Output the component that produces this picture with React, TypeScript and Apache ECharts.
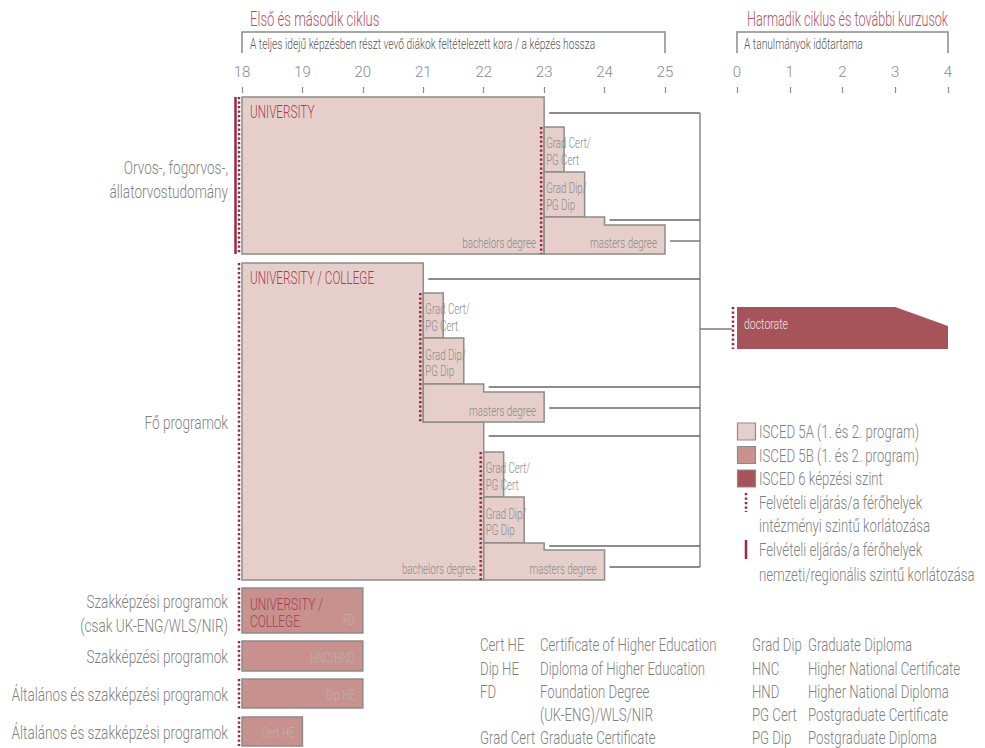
import React, { useEffect, useRef } from 'react';
import * as echarts from 'echarts';

const FONT = 'Roboto, "DejaVu Sans Condensed", sans-serif';

// Axis ticks
const ageTicks = [18, 19, 20, 21, 22, 23, 24, 25];
const durationTicks = [0, 1, 2, 3, 4];

// ISCED 5A programmes (ages): start, end of upper part, end of lower part
const isced5aLabels = [
  'bachelors degree', 'Grad Cert/\nPG Cert', 'Grad Dip/\nPG Dip', 'masters degree',
  'bachelors degree', 'Grad Cert/\nPG Cert', 'Grad Dip/\nPG Dip', 'masters degree',
  'Grad Cert/\nPG Cert', 'Grad Dip/\nPG Dip', 'masters degree',
];
const isced5aInstitution = ['UNIVERSITY', '', '', '', 'UNIVERSITY / COLLEGE', '', '', '', '', '', ''];
const isced5aStart = [18, 23, 23, 23, 18, 21, 21, 21, 22, 22, 22];
const isced5aEndUpper = [23, 23.33, 23.67, 24, 21, 21.33, 21.67, 22, 22.33, 22.67, 23];
const isced5aEndLower = [23, 23.33, 23.67, 25, 22, 21.33, 21.67, 23, 22.33, 22.67, 24];
// vertical lanes (layout)
const isced5aTop = [97, 127, 172, 217, 263, 293, 338, 384, 452, 497, 543];
const isced5aStep = [254, 172, 217, 225, 422, 338, 384, 392, 497, 543, 550];
const isced5aBottom = [254, 172, 217, 254, 580, 338, 384, 422, 497, 543, 580];

// ISCED 5B programmes
const isced5bLabels = ['FD', 'HNC/HND', 'Dip HE', 'Cert HE'];
const isced5bInstitution = ['UNIVERSITY /\nCOLLEGE', '', '', ''];
const isced5bStart = [18, 18, 18, 18];
const isced5bEnd = [20, 20, 20, 19];
const isced5bTop = [588, 641, 679, 717];
const isced5bBottom = [633, 671, 708, 746];

// ISCED 6 (duration in years)
const isced6Labels = ['doctorate'];
const isced6Start = [0];
const isced6EndTop = [3];
const isced6End = [4];
const isced6Top = [307];
const isced6Bevel = [326];
const isced6Bottom = [349];

// Selection at institutional level (dotted) — age where it applies
const instSelAge = [18, 18, 18, 18, 18, 18, 23, 21, 22];
const instSelTop = [97, 263, 588, 641, 679, 717, 127, 293, 452];
const instSelBottom = [254, 580, 633, 671, 708, 746, 254, 422, 580];

// Selection at national level (solid)
const natSelAge = [18];
const natSelTop = [97];
const natSelBottom = [254];

// Connectors to third cycle: age where programme ends
const connectorAge = [23, 24, 25, 21, 22, 23, 22, 23, 24];
const connectorY = [113, 220, 241, 279, 387, 408, 436, 546, 567];

// Row labels
const rowLabels = [
  'Orvos-, fogorvos-,\nállatorvostudomány',
  'Fő programok',
  'Szakképzési programok\n(csak UK-ENG/WLS/NIR)',
  'Szakképzési programok',
  'Általános és szakképzési programok',
  'Általános és szakképzési programok',
];
const rowLabelY = [180, 423, 614, 657, 695, 733];

// Glossary
const glossAbbrLeft = ['Cert HE', 'Dip HE', 'FD', '', 'Grad Cert'];
const glossTextLeft = ['Certificate of Higher Education', 'Diploma of Higher Education', 'Foundation Degree', '(UK-ENG)/WLS/NIR', 'Graduate Certificate'];
const glossAbbrRight = ['Grad Dip', 'HNC', 'HND', 'PG Cert', 'PG Dip'];
const glossTextRight = ['Graduate Diploma', 'Higher National Certificate', 'Higher National Diploma', 'Postgraduate Certificate', 'Postgraduate Diploma'];

const legendLabels = [
  'ISCED 5A (1. és 2. program)',
  'ISCED 5B (1. és 2. program)',
  'ISCED 6 képzési szint',
  'Felvételi eljárás/a férőhelyek\nintézményi szintű korlátozása',
  'Felvételi eljárás/a férőhelyek\nnemzeti/regionális szintű korlátozása',
];

const C5A = '#e6cfcb';
const C5B = '#c8918d';
const C6 = '#a6535a';
const BORDER = '#8c8c8c';
const DOT = '#9b2741';
const RED_TITLE = '#b5515f';
const RED_INST = '#a63d4f';
const GRAY = '#808080';
const CONN = '#666666';

function txt(text: string, x: number, y: number, o: any = {}) {
  return {
    type: 'text',
    x,
    y,
    scaleX: o.scaleX || 0.72,
    silent: true,
    style: {
      text,
      fill: o.fill || GRAY,
      fontSize: o.fontSize || 14,
      fontFamily: FONT,
      fontWeight: 300,
      align: o.align || 'left',
      verticalAlign: o.verticalAlign || 'middle',
      lineHeight: o.lineHeight || 24,
    },
  };
}

function buildOption() {
  const data5a = isced5aStart.map((s, i) => [s, isced5aEndUpper[i], isced5aEndLower[i], isced5aTop[i], isced5aStep[i], isced5aBottom[i]]);
  const data5b = isced5bStart.map((s, i) => [s, isced5bEnd[i], isced5bTop[i], isced5bBottom[i]]);
  const data6 = isced6Start.map((s, i) => [s, isced6EndTop[i], isced6End[i], isced6Top[i], isced6Bevel[i], isced6Bottom[i]]);
  const dataInst = instSelAge.map((a, i) => [a, instSelTop[i], instSelBottom[i]]);
  const dataNat = natSelAge.map((a, i) => [a, natSelTop[i], natSelBottom[i]]);
  const dataConn = connectorAge.map((a, i) => [a, connectorY[i]]);

  const render5a = (params: any, api: any) => {
    const i = params.dataIndex;
    const p = (x: number, y: number) => api.coord([x, y]);
    const s = api.value(0), eu = api.value(1), el = api.value(2), t = api.value(3), st = api.value(4), b = api.value(5);
    const pts = [p(s, t), p(eu, t), p(eu, st), p(el, st), p(el, b), p(s, b)];
    const children: any[] = [
      { type: 'polygon', shape: { points: pts }, style: { fill: C5A, stroke: BORDER, lineWidth: 1.5 } },
    ];
    const label = isced5aLabels[i];
    if (label.indexOf('\n') >= 0) {
      children.push(txt(label, pts[0][0] + 2, (pts[0][1] + pts[5][1]) / 2 + 2.5, { fontSize: 14.5, scaleX: 0.67, lineHeight: 16.5, fill: '#8a8a8a' }));
    } else {
      children.push(txt(label, pts[4][0] - 8, pts[4][1] - 11, { fontSize: 14, scaleX: 0.7, align: 'right', fill: '#8a8a8a' }));
    }
    if (isced5aInstitution[i]) {
      children.push(txt(isced5aInstitution[i], pts[0][0] + 8, pts[0][1] + 15, { fontSize: 17.5, scaleX: 0.67, fill: RED_INST }));
    }
    return { type: 'group', children };
  };

  const render5b = (params: any, api: any) => {
    const i = params.dataIndex;
    const tl = api.coord([api.value(0), api.value(2)]);
    const br = api.coord([api.value(1), api.value(3)]);
    const children: any[] = [
      { type: 'rect', shape: { x: tl[0], y: tl[1], width: br[0] - tl[0], height: br[1] - tl[1] }, style: { fill: C5B, stroke: BORDER, lineWidth: 1.5 } },
      txt(isced5bLabels[i], br[0] - 8, br[1] - 12.5, { fontSize: 14, scaleX: 0.7, align: 'right', fill: '#b9b4b4' }),
    ];
    if (isced5bInstitution[i]) {
      children.push(txt(isced5bInstitution[i], tl[0] + 8, tl[1] + 24.5, { fontSize: 17, scaleX: 0.7, lineHeight: 17, fill: RED_INST }));
    }
    return { type: 'group', children };
  };

  const render6 = (params: any, api: any) => {
    const i = params.dataIndex;
    const p = (x: number, y: number) => api.coord([x, y]);
    const s = api.value(0), et = api.value(1), e = api.value(2), t = api.value(3), bv = api.value(4), b = api.value(5);
    const pts = [p(s, t), p(et, t), p(e, bv), p(e, b), p(s, b)];
    const midY = (pts[0][1] + pts[4][1]) / 2;
    return {
      type: 'group',
      children: [
        { type: 'polygon', shape: { points: pts }, style: { fill: C6, stroke: 'none' } },
        txt(isced6Labels[i], pts[0][0] + 7, midY - 4, { fontSize: 15, scaleX: 0.7, fill: '#f3e4e4' }),
        { type: 'line', shape: { x1: pts[0][0] - 4, y1: pts[0][1], x2: pts[0][0] - 4, y2: pts[4][1] }, style: { stroke: DOT, lineWidth: 2.5, lineDash: [2.2, 2.3] } },
        { type: 'line', shape: { x1: pts[0][0] - 37, y1: midY + 1, x2: pts[0][0] - 5, y2: midY + 1 }, style: { stroke: CONN, lineWidth: 1.3 } },
      ],
    };
  };

  const renderInst = (params: any, api: any) => {
    const a = api.coord([api.value(0), api.value(1)]);
    const b = api.coord([api.value(0), api.value(2)]);
    return { type: 'line', shape: { x1: a[0] - 3, y1: a[1], x2: b[0] - 3, y2: b[1] }, style: { stroke: DOT, lineWidth: 2.5, lineDash: [2.2, 2.3] } };
  };

  const renderNat = (params: any, api: any) => {
    const a = api.coord([api.value(0), api.value(1)]);
    const b = api.coord([api.value(0), api.value(2)]);
    return { type: 'line', shape: { x1: a[0] - 6.5, y1: a[1], x2: b[0] - 6.5, y2: b[1] }, style: { stroke: DOT, lineWidth: 2.5 } };
  };

  const renderConn = (params: any, api: any) => {
    const a = api.coord([api.value(0), api.value(1)]);
    const trunkX = api.coord([ageTicks[ageTicks.length - 1], 0])[0] + 35;
    const children: any[] = [
      { type: 'line', shape: { x1: a[0] + 5, y1: a[1], x2: trunkX, y2: a[1] }, style: { stroke: CONN, lineWidth: 1.3 } },
    ];
    if (params.dataIndex === 0) {
      const yMin = api.coord([0, Math.min(...connectorY)])[1];
      const yMax = api.coord([0, Math.max(...connectorY)])[1];
      children.push({ type: 'line', shape: { x1: trunkX, y1: yMin, x2: trunkX, y2: yMax }, style: { stroke: '#8a8a8a', lineWidth: 1.5 } });
    }
    return { type: 'group', children };
  };

  const axisCommon = {
    type: 'value',
    position: 'top',
    interval: 1,
    axisLine: { show: false },
    axisTick: { show: true, length: 6, lineStyle: { color: '#8a8a8a', width: 1.2 } },
    axisLabel: { margin: 14, color: '#8a8a8a', fontSize: 15, fontFamily: FONT, fontWeight: 300 },
    splitLine: { show: false },
  };

  const graphic: any[] = [];
  // Titles
  graphic.push(txt('Első és második ciklus', 250, 19, { fontSize: 20, scaleX: 0.655, fill: RED_TITLE }));
  graphic.push(txt('Harmadik ciklus és további kurzusok', 948, 19, { fontSize: 20, scaleX: 0.63, fill: RED_TITLE, align: 'right' }));
  // Brackets
  graphic.push({ type: 'polyline', shape: { points: [[242, 53], [242, 32], [665, 32], [665, 53]] }, style: { stroke: '#8a8a8a', lineWidth: 1.5, fill: 'none' } });
  graphic.push({ type: 'polyline', shape: { points: [[737, 53], [737, 32], [948, 32], [948, 53]] }, style: { stroke: '#8a8a8a', lineWidth: 1.5, fill: 'none' } });
  graphic.push(txt('A teljes idejű képzésben részt vevő diákok feltételezett kora / a képzés hossza', 250, 44, { fontSize: 14, scaleX: 0.73, fill: '#555' }));
  graphic.push(txt('A tanulmányok időtartama', 744, 44, { fontSize: 14, scaleX: 0.73, fill: '#555' }));
  // Row labels
  rowLabels.forEach((l, i) => graphic.push(txt(l, 228, rowLabelY[i], { fontSize: 19, scaleX: 0.716, align: 'right', fill: GRAY })));
  // Legend
  const legY = [432, 455.5, 479];
  const legFill = [C5A, C5B, C6];
  legY.forEach((y, i) => {
    graphic.push({ type: 'rect', shape: { x: 737.5, y: y - 9, width: 18, height: 17 }, style: { fill: legFill[i], stroke: BORDER, lineWidth: 1.2 } });
    graphic.push(txt(legendLabels[i], 759, y, { fontSize: 19, scaleX: 0.695, fill: GRAY }));
  });
  graphic.push({ type: 'line', shape: { x1: 746, y1: 493, x2: 746, y2: 512 }, style: { stroke: DOT, lineWidth: 2.5, lineDash: [2.2, 2.3] } });
  graphic.push(txt(legendLabels[3], 759, 514, { fontSize: 19, scaleX: 0.695, lineHeight: 23.5, fill: GRAY }));
  graphic.push({ type: 'line', shape: { x1: 746, y1: 540, x2: 746, y2: 559 }, style: { stroke: DOT, lineWidth: 2.5 } });
  graphic.push(txt(legendLabels[4], 759, 562, { fontSize: 19, scaleX: 0.695, lineHeight: 25, fill: GRAY }));
  // Glossary
  const glossY = [645, 668.5, 692, 715, 738];
  glossY.forEach((y, i) => {
    if (glossAbbrLeft[i]) graphic.push(txt(glossAbbrLeft[i], 480, y, { fontSize: 18.5, scaleX: 0.713, fill: GRAY }));
    graphic.push(txt(glossTextLeft[i], 540, y, { fontSize: 18.5, scaleX: 0.713, fill: GRAY }));
    graphic.push(txt(glossAbbrRight[i], 752, y, { fontSize: 18.5, scaleX: 0.713, fill: GRAY }));
    graphic.push(txt(glossTextRight[i], 808, y, { fontSize: 18.5, scaleX: 0.713, fill: GRAY }));
  });

  return {
    animation: false,
    grid: [
      { left: 242, width: 423, top: 93, bottom: 0 },
      { left: 737, width: 211, top: 93, bottom: 0 },
    ],
    xAxis: [
      { ...axisCommon, gridIndex: 0, min: ageTicks[0], max: ageTicks[ageTicks.length - 1] },
      { ...axisCommon, gridIndex: 1, min: durationTicks[0], max: durationTicks[durationTicks.length - 1] },
    ],
    yAxis: [
      { type: 'value', gridIndex: 0, min: 93, max: 748, inverse: true, show: false },
      { type: 'value', gridIndex: 1, min: 93, max: 748, inverse: true, show: false },
    ],
    series: [
      { type: 'custom', name: 'connectors', xAxisIndex: 0, yAxisIndex: 0, clip: false, renderItem: renderConn, data: dataConn, z: 1 },
      { type: 'custom', name: 'ISCED 5A', xAxisIndex: 0, yAxisIndex: 0, clip: false, renderItem: render5a, data: data5a, z: 2 },
      { type: 'custom', name: 'ISCED 5B', xAxisIndex: 0, yAxisIndex: 0, clip: false, renderItem: render5b, data: data5b, z: 2 },
      { type: 'custom', name: 'ISCED 6', xAxisIndex: 1, yAxisIndex: 1, clip: false, renderItem: render6, data: data6, z: 2 },
      { type: 'custom', name: 'inst', xAxisIndex: 0, yAxisIndex: 0, clip: false, renderItem: renderInst, data: dataInst, z: 3 },
      { type: 'custom', name: 'nat', xAxisIndex: 0, yAxisIndex: 0, clip: false, renderItem: renderNat, data: dataNat, z: 3 },
    ],
    graphic,
  };
}

export default function App() {
  const ref = useRef<HTMLDivElement>(null);
  useEffect(() => {
    const chart = echarts.init(ref.current!, null, { renderer: 'svg' });
    chart.setOption(buildOption() as any);
    return () => chart.dispose();
  }, []);
  return <div ref={ref} style={{ position: 'absolute', left: 0, top: 0, width: 985, height: 748, background: '#fff' }} />;
}
